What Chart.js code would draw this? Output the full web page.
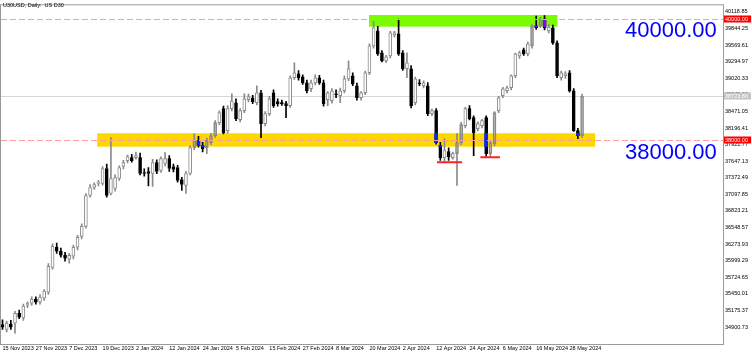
<!DOCTYPE html>
<html lang="en">
<head>
<meta charset="UTF-8">
<title>U30USD, Daily</title>
<script src="https://cdn.jsdelivr.net/npm/chart.js@4.4.1/dist/chart.umd.min.js"></script>
<style>
  html, body { margin: 0; padding: 0; background: #fff; }
</style>
</head>
<body>
<canvas id="chart" width="752" height="355"></canvas>
<script>
// daily bars, 15 Nov 2023 .. 31 May 2024
const opens = [
  34940, 34860, 34950, 34965, 35130, 35050, 35265, 35297, 35363, 35313,
  35380, 35478, 35890, 36222, 36156, 36090, 36024, 36073, 36222, 36403,
  36569, 37080, 37212, 37279, 37279, 37526, 37113, 37196, 37361, 37559,
  37658, 37708, 37708, 37708, 37460, 37477, 37444, 37625, 37493, 37609,
  37691, 37559, 37543, 37345, 37246, 37444, 37873, 37989, 37906, 37873,
  37956, 38071, 38286, 38517, 38154, 38517, 38616, 38335, 38484, 38666,
  38699, 38616, 38781, 38269, 38435, 38781, 38633, 38616, 38600, 38567,
  39029, 39095, 39046, 38946, 38847, 38946, 39029, 38946, 38666, 38649,
  38765, 38732, 38814, 39012, 39062, 38897, 38699, 38781, 39112, 39557,
  39805, 39442, 39310, 39392, 39739, 39756, 39442, 39178, 39178, 38616,
  38946, 38897, 38897, 38435, 38484, 37906, 37708, 37807, 37708, 37774,
  37956, 38236, 38517, 38369, 38187, 38236, 38369, 37774, 37939, 38484,
  38732, 38814, 38864, 39062, 39392, 39491, 39425, 39557, 39888, 39888,
  40003, 39805, 39855, 39607, 39029, 39062, 39112, 38814, 38154, 38071
];
const highs = [
  35020, 35000, 35010, 35160, 35180, 35280, 35320, 35400, 35400, 35440,
  35520, 35950, 36280, 36290, 36210, 36140, 36120, 36260, 36420, 36610,
  37110, 37260, 37290, 37330, 37560, 37600, 38040, 37420, 37570, 37660,
  37750, 37760, 37800, 37780, 37520, 37540, 37680, 37670, 37720, 37790,
  37740, 37600, 37580, 37380, 37480, 37900, 38104, 38060, 37960, 38030,
  38110, 38320, 38480, 38560, 38567, 38765, 38680, 38520, 38765, 38760,
  38740, 38897, 38820, 38470, 38720, 38830, 38680, 38660, 38640, 39060,
  39277, 39150, 39080, 38990, 38990, 39080, 39070, 38990, 38800, 38850,
  38830, 38860, 39060, 39310, 39110, 38940, 38800, 39140, 39590, 39970,
  39880, 39480, 39400, 39800, 39800, 40003, 39480, 39442, 39230, 39040,
  39000, 38980, 38950, 38510, 38520, 37960, 38020, 37870, 37800, 38104,
  38290, 38540, 38567, 38400, 38300, 38340, 38400, 37990, 38470, 38720,
  38870, 38890, 39080, 39440, 39470, 39520, 39620, 39910, 40053, 40030,
  40060, 39910, 39900, 39640, 39140, 39130, 39150, 38850, 38190, 38760
];
const lows = [
  34860, 34820, 34860, 34800, 35040, 35010, 35220, 35260, 35280, 35280,
  35340, 35440, 35860, 36120, 36060, 35990, 35960, 36030, 36180, 36360,
  36540, 37050, 37180, 37240, 37250, 37050, 37090, 37150, 37330, 37520,
  37620, 37630, 37680, 37420, 37400, 37240, 37230, 37440, 37460, 37570,
  37480, 37470, 37300, 37163, 37113, 37420, 37840, 37880, 37800, 37774,
  37920, 38040, 38250, 38100, 38110, 38480, 38320, 38300, 38450, 38630,
  38600, 38580, 38038, 38230, 38400, 38540, 38560, 38570, 38368, 38540,
  39000, 38990, 38920, 38780, 38800, 38910, 38920, 38560, 38567, 38610,
  38700, 38616, 38780, 38980, 38900, 38660, 38660, 38750, 39080, 39520,
  39400, 39290, 39280, 39360, 39700, 39400, 39150, 39029, 38530, 38580,
  38900, 38860, 38400, 38400, 37930, 37660, 37640, 37660, 37680, 37246,
  37920, 38200, 38330, 37741, 38150, 38200, 37725, 37725, 37900, 38450,
  38700, 38780, 38830, 39030, 39350, 39400, 39390, 39520, 39830, 39860,
  39820, 39770, 39580, 39030, 38990, 39020, 38790, 38140, 38020, 38040
];
const closes = [
  34900, 34965, 34900, 35130, 35065, 35250, 35297, 35363, 35313, 35396,
  35495, 35908, 36238, 36156, 36090, 36040, 36090, 36222, 36387, 36569,
  37080, 37212, 37262, 37295, 37526, 37080, 37361, 37378, 37543, 37625,
  37724, 37658, 37741, 37444, 37444, 37444, 37625, 37477, 37691, 37691,
  37526, 37510, 37328, 37262, 37444, 37873, 37989, 37906, 37857, 37989,
  38071, 38286, 38451, 38121, 38517, 38649, 38352, 38484, 38682, 38715,
  38633, 38781, 38269, 38435, 38682, 38567, 38600, 38600, 38567, 39029,
  39112, 39029, 38946, 38814, 38946, 39029, 38946, 38600, 38781, 38814,
  38748, 38814, 39012, 39178, 38930, 38699, 38781, 39112, 39557, 39855,
  39425, 39310, 39376, 39772, 39772, 39425, 39178, 39277, 38567, 39012,
  38930, 38946, 38435, 38484, 37956, 37708, 37824, 37724, 37774, 37956,
  38253, 38517, 38352, 38121, 38269, 38319, 37774, 37956, 38451, 38699,
  38847, 38864, 39062, 39425, 39442, 39425, 39590, 39888, 39855, 40003,
  39855, 39870, 39607, 39062, 39112, 39100, 38814, 38154, 38071, 38723.86
];

// time axis: one label every 8 bars
const tickBars = [0, 8, 16, 24, 32, 40, 48, 56, 64, 72, 80, 88, 96, 104, 112, 120, 128, 136];
const tickDates = ['15 Nov 2023', '27 Nov 2023', '7 Dec 2023', '19 Dec 2023', '2 Jan 2024', '12 Jan 2024',
  '24 Jan 2024', '5 Feb 2024', '15 Feb 2024', '27 Feb 2024', '8 Mar 2024', '20 Mar 2024', '2 Apr 2024',
  '12 Apr 2024', '24 Apr 2024', '6 May 2024', '16 May 2024', '28 May 2024'];

// price axis labels
const priceTicks = [40118.85, 39844.25, 39569.61, 39294.97, 39020.33, 38745.69, 38471.05, 38196.41,
  37921.77, 37647.13, 37372.49, 37097.85, 36823.21, 36548.57, 36273.93, 35999.29, 35724.65,
  35450.01, 35175.37, 34900.73];

const levels = [40000, 38000];
const lastPrice = closes[closes.length - 1];

// drawn objects on the chart (bar index / price)
const zones = [
  { from: 22.7, to: 142.1, low: 37888, high: 38110, color: '#ffd700', bear: '#0028ff' },
  { from: 87.9, to: 133.1, low: 39876, high: 40069, color: '#7cfc00', bear: '#8303ff' }
];
const lowMarks = [
  { from: 104.2, to: 110.2, price: 37630 },
  { from: 114.6, to: 119.3, price: 37713 }
];
const notes = [
  { text: '40000.00', bar: 149.3, price: 39805 },
  { text: '38000.00', bar: 149.3, price: 37790 }
];

const FONT = 'Liberation Sans';
const bull = i => closes[i] >= opens[i];
const inZone = i => zones.some(z => i >= z.from && i <= z.to &&
  Math.max(opens[i], closes[i]) > z.low && Math.min(opens[i], closes[i]) < z.high);

const idx = opens.map((_, i) => i);
const bodies = idx.map(i => ({ x: i, y: [opens[i], closes[i]] }));
const upper = idx.filter(i => highs[i] > Math.max(opens[i], closes[i]))
  .map(i => ({ x: i, y: [Math.max(opens[i], closes[i]), highs[i]] }));
const lower = idx.filter(i => lows[i] < Math.min(opens[i], closes[i]))
  .map(i => ({ x: i, y: [lows[i], Math.min(opens[i], closes[i])] }));

// bearish body part that sits inside a zone (shown in the mixed colour)
const zoneSets = zones.map(z => ({
  type: 'bar',
  data: idx.filter(i => !bull(i) && i >= z.from && i <= z.to &&
      Math.min(opens[i], z.high) > Math.max(closes[i], z.low))
    .map(i => ({ x: i, y: [Math.max(closes[i], z.low), Math.min(opens[i], z.high)] })),
  backgroundColor: z.bear,
  borderWidth: 0,
  barThickness: 3,
  order: 0
}));

const wickColor = c => bull(c.raw.x) ? '#8a8a8a' : '#000';

const drawings = {
  id: 'drawings',
  beforeDatasetsDraw(chart) {
    const { ctx, chartArea: a, scales: { x, y } } = chart;
    ctx.save();
    ctx.beginPath();
    ctx.rect(a.left, a.top, a.right - a.left, a.bottom - a.top);
    ctx.clip();
    zones.forEach(z => {
      const x0 = x.getPixelForValue(z.from), x1 = x.getPixelForValue(z.to);
      const y0 = y.getPixelForValue(z.high), y1 = y.getPixelForValue(z.low);
      ctx.fillStyle = z.color;
      ctx.fillRect(x0, y0, x1 - x0, y1 - y0);
    });
    const py = Math.round(y.getPixelForValue(lastPrice)) + 0.5;
    ctx.strokeStyle = '#d6d6d6';
    ctx.lineWidth = 1;
    ctx.beginPath();
    ctx.moveTo(a.left, py);
    ctx.lineTo(a.right, py);
    ctx.stroke();
    ctx.restore();
  },
  afterDatasetsDraw(chart) {
    const { ctx, chartArea: a, scales: { x, y } } = chart;
    ctx.save();
    ctx.beginPath();
    ctx.rect(a.left, a.top, a.right - a.left, a.bottom - a.top);
    ctx.clip();
    // horizontal levels
    ctx.lineWidth = 1;
    ctx.setLineDash([6, 3]);
    levels.forEach(v => {
      const py = Math.round(y.getPixelForValue(v)) + 0.5;
      ctx.strokeStyle = '#ff9c9c';
      ctx.beginPath();
      ctx.moveTo(a.left, py);
      ctx.lineTo(a.right, py);
      ctx.stroke();
    });
    ctx.setLineDash([]);
    // red marks under the lows
    ctx.strokeStyle = '#ff2020';
    ctx.lineWidth = 2;
    lowMarks.forEach(m => {
      const py = y.getPixelForValue(m.price);
      ctx.beginPath();
      ctx.moveTo(x.getPixelForValue(m.from), py);
      ctx.lineTo(x.getPixelForValue(m.to), py);
      ctx.stroke();
    });
    // big level notes
    ctx.fillStyle = '#0000ff';
    ctx.font = '22px "' + FONT + '"';
    ctx.textBaseline = 'middle';
    ctx.textAlign = 'left';
    notes.forEach(n => ctx.fillText(n.text, x.getPixelForValue(n.bar), y.getPixelForValue(n.price)));
    ctx.restore();
  },
  afterDraw(chart) {
    const { ctx, chartArea: a, scales: { y } } = chart;
    ctx.save();
    ctx.strokeStyle = '#9a9a9a';
    ctx.lineWidth = 1;
    ctx.strokeRect(a.left - 0.5, a.top - 0.5, a.right - a.left + 1, a.bottom - a.top + 1);
    ctx.font = '5.5px "' + FONT + '"';
    ctx.textBaseline = 'middle';
    ctx.textAlign = 'left';
    const tag = (v, bg) => {
      const py = Math.round(y.getPixelForValue(v));
      ctx.fillStyle = bg;
      ctx.fillRect(a.right + 1, py - 3.5, 27, 7);
      ctx.fillStyle = '#fff';
      ctx.fillText(v.toFixed(2), a.right + 2, py + 0.5);
    };
    tag(lastPrice, '#c4c4c4');
    levels.forEach(v => tag(v, '#ff0000'));
    ctx.fillStyle = '#000';
    ctx.fillText('U30USD, Daily:  US D30', 3, 5.5);
    ctx.restore();
  }
};

new Chart(document.getElementById('chart'), {
  type: 'bar',
  data: {
    datasets: [
      ...zoneSets,
      {
        data: bodies,
        backgroundColor: c => bull(c.raw.x) ? (inZone(c.raw.x) ? 'rgba(0,0,0,0)' : '#fff') : '#000',
        borderColor: c => bull(c.raw.x) ? '#8a8a8a' : '#000',
        borderWidth: 1,
        borderSkipped: false,
        minBarLength: 1,
        barThickness: 3,
        order: 1
      },
      { data: upper, backgroundColor: wickColor, borderWidth: 0, barThickness: 1, order: 2 },
      { data: lower, backgroundColor: wickColor, borderWidth: 0, barThickness: 1, order: 2 }
    ]
  },
  options: {
    responsive: false,
    devicePixelRatio: 1,
    animation: false,
    datasets: { bar: { grouped: false } },
    layout: { padding: { left: 1, top: 1, right: 0, bottom: 0 } },
    plugins: { legend: { display: false }, tooltip: { enabled: false } },
    scales: {
      x: {
        type: 'linear',
        min: -0.36,
        max: 172.8,
        offset: false,
        grid: { display: false, drawTicks: false },
        border: { display: false },
        afterBuildTicks: s => { s.ticks = tickBars.map(v => ({ value: v })); },
        afterFit: s => { s.height = 11; },
        ticks: {
          autoSkip: false,
          maxRotation: 0,
          align: 'start',
          padding: 1,
          color: '#000',
          font: { family: FONT, size: 5.5 },
          callback: v => tickDates[tickBars.indexOf(v)]
        }
      },
      y: {
        position: 'right',
        min: 34620,
        max: 40229.5,
        beginAtZero: false,
        grid: { display: false, drawTicks: false },
        border: { display: false },
        afterBuildTicks: s => { s.ticks = priceTicks.map(v => ({ value: v })); },
        afterFit: s => { s.width = 29; },
        ticks: {
          padding: 2,
          color: '#000',
          font: { family: FONT, size: 5.5 },
          callback: v => v.toFixed(2)
        }
      }
    }
  },
  plugins: [drawings]
});
</script>
</body>
</html>
